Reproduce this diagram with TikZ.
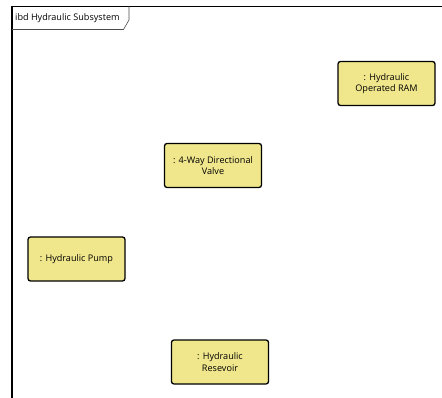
\documentclass[tikz,border=0pt]{standalone}
\usepackage{fontspec}
\setmainfont{Open Sans}
\definecolor{blockfill}{HTML}{F0E68C}
\tikzset{
  block/.style={draw=black, line width=1.3pt, fill=blockfill, rounded corners=2.5pt,
    minimum width=97pt, minimum height=44pt, align=center, inner sep=1pt,
    font=\fontsize{9.1}{11.5}\selectfont},
  frameline/.style={draw=black, line width=1.2pt},
  tabline/.style={draw=black!70, line width=0.6pt}
}
\begin{document}
\begin{tikzpicture}[x=1pt,y=-1pt]
\useasboundingbox (0,0) rectangle (442,398);
\fill[white] (0,0) rectangle (442,398);
% frame
\draw[frameline] (12,400) -- (12,6.5) -- (444,6.5);
% tab
\draw[tabline] (12,29.5) -- (123.5,29.5) -- (129,20) -- (129,6.5);
\node[anchor=west, inner sep=0pt, font=\fontsize{9.1}{10}\selectfont] (title) at (15,18.5) {ibd Hydraulic Subsystem};
% blocks
\node[block] (ram) at (386.5,83.5) {: Hydraulic\\Operated RAM};
\node[block] (valve) at (213,165.5) {: 4-Way Directional\\Valve};
\node[block] (pump) at (76.5,259) {: Hydraulic Pump};
\node[block] (res) at (220,362) {: Hydraulic\\Resevoir};
\end{tikzpicture}
\end{document}
